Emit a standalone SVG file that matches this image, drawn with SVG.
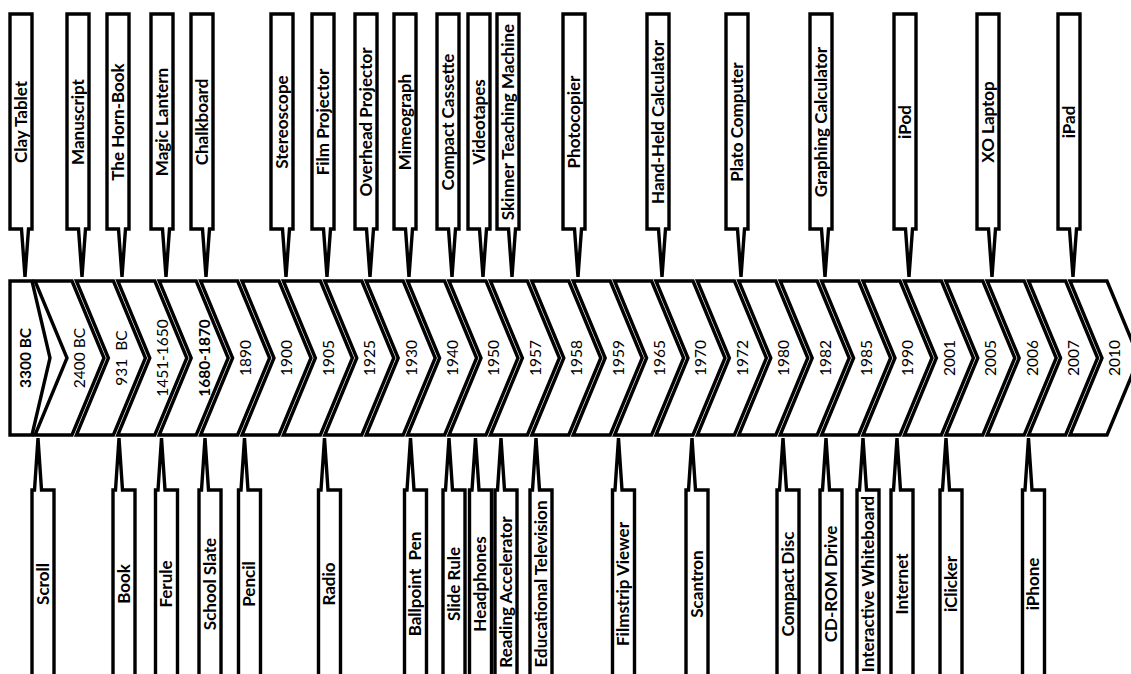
<svg xmlns="http://www.w3.org/2000/svg" xmlns:xlink="http://www.w3.org/1999/xlink" width="1131" height="674" viewBox="0 0 1131 674">
<style>
.sh{fill:#fff;stroke:#000;stroke-width:3.4;stroke-linejoin:miter}
.lb{font-family:Lato,"Open Sans","Liberation Sans",sans-serif;font-weight:bold;font-size:17px;text-anchor:middle;fill:#000;white-space:pre}
.yr{font-family:Lato,"Open Sans","Liberation Sans",sans-serif;font-size:15.5px;text-anchor:middle;fill:#000;white-space:pre}
.b{font-weight:bold}
</style>
<defs>
<polygon id="chev" points="-32,281 5,281 37,358 5,435 -32,435 0,358"/>
<path id="topc" d="M-11,14 H11 V229 H7.5 L4,277 L0.5,229 H-11 Z"/>
<path id="botc" d="M-11,680 V490 H-8.5 L-5,438 L-1.5,490 H11 V680 Z"/>
</defs>
<rect width="1131" height="674" fill="#fff"/>
<g id="timeline">
<g id="y3300bc"><polygon class="sh" points="10,281 32,281 50,358 32,435 10,435"/><text class="yr b" transform="translate(26,358) rotate(-90)" dy="0.35em">3300 BC</text></g>
<g id="y2400bc" transform="translate(67,0)"><use class="sh" href="#chev"/><text class="yr" transform="translate(13,358) rotate(-90)" dy="0.35em">2400 BC</text></g>
<g id="y931bc" transform="translate(108.4,0)"><use class="sh" href="#chev"/><text class="yr" transform="translate(13,358) rotate(-90)" dy="0.35em">931  BC</text></g>
<g id="y1451" transform="translate(149.8,0)"><use class="sh" href="#chev"/><text class="yr" transform="translate(13,358) rotate(-90)" dy="0.35em">1451-1650</text></g>
<g id="y1680" transform="translate(191.2,0)"><use class="sh" href="#chev"/><text class="yr b" transform="translate(13,358) rotate(-90)" dy="0.35em">1680-1870</text></g>
<g id="y1890" transform="translate(232.6,0)"><use class="sh" href="#chev"/><text class="yr" transform="translate(13,358) rotate(-90)" dy="0.35em">1890</text></g>
<g id="y1900" transform="translate(274,0)"><use class="sh" href="#chev"/><text class="yr" transform="translate(13,358) rotate(-90)" dy="0.35em">1900</text></g>
<g id="y1905" transform="translate(315.4,0)"><use class="sh" href="#chev"/><text class="yr" transform="translate(13,358) rotate(-90)" dy="0.35em">1905</text></g>
<g id="y1925" transform="translate(356.8,0)"><use class="sh" href="#chev"/><text class="yr" transform="translate(13,358) rotate(-90)" dy="0.35em">1925</text></g>
<g id="y1930" transform="translate(398.2,0)"><use class="sh" href="#chev"/><text class="yr" transform="translate(13,358) rotate(-90)" dy="0.35em">1930</text></g>
<g id="y1940" transform="translate(439.6,0)"><use class="sh" href="#chev"/><text class="yr" transform="translate(13,358) rotate(-90)" dy="0.35em">1940</text></g>
<g id="y1950" transform="translate(481,0)"><use class="sh" href="#chev"/><text class="yr" transform="translate(13,358) rotate(-90)" dy="0.35em">1950</text></g>
<g id="y1957" transform="translate(522.4,0)"><use class="sh" href="#chev"/><text class="yr" transform="translate(13,358) rotate(-90)" dy="0.35em">1957</text></g>
<g id="y1958" transform="translate(563.8,0)"><use class="sh" href="#chev"/><text class="yr" transform="translate(13,358) rotate(-90)" dy="0.35em">1958</text></g>
<g id="y1959" transform="translate(605.2,0)"><use class="sh" href="#chev"/><text class="yr" transform="translate(13,358) rotate(-90)" dy="0.35em">1959</text></g>
<g id="y1965" transform="translate(646.6,0)"><use class="sh" href="#chev"/><text class="yr" transform="translate(13,358) rotate(-90)" dy="0.35em">1965</text></g>
<g id="y1970" transform="translate(688,0)"><use class="sh" href="#chev"/><text class="yr" transform="translate(13,358) rotate(-90)" dy="0.35em">1970</text></g>
<g id="y1972" transform="translate(729.4,0)"><use class="sh" href="#chev"/><text class="yr" transform="translate(13,358) rotate(-90)" dy="0.35em">1972</text></g>
<g id="y1980" transform="translate(770.8,0)"><use class="sh" href="#chev"/><text class="yr" transform="translate(13,358) rotate(-90)" dy="0.35em">1980</text></g>
<g id="y1982" transform="translate(812.2,0)"><use class="sh" href="#chev"/><text class="yr" transform="translate(13,358) rotate(-90)" dy="0.35em">1982</text></g>
<g id="y1985" transform="translate(853.6,0)"><use class="sh" href="#chev"/><text class="yr" transform="translate(13,358) rotate(-90)" dy="0.35em">1985</text></g>
<g id="y1990" transform="translate(895,0)"><use class="sh" href="#chev"/><text class="yr" transform="translate(13,358) rotate(-90)" dy="0.35em">1990</text></g>
<g id="y2001" transform="translate(936.4,0)"><use class="sh" href="#chev"/><text class="yr" transform="translate(13,358) rotate(-90)" dy="0.35em">2001</text></g>
<g id="y2005" transform="translate(977.8,0)"><use class="sh" href="#chev"/><text class="yr" transform="translate(13,358) rotate(-90)" dy="0.35em">2005</text></g>
<g id="y2006" transform="translate(1019.2,0)"><use class="sh" href="#chev"/><text class="yr" transform="translate(13,358) rotate(-90)" dy="0.35em">2006</text></g>
<g id="y2007" transform="translate(1060.6,0)"><use class="sh" href="#chev"/><text class="yr" transform="translate(13,358) rotate(-90)" dy="0.35em">2007</text></g>
<g id="y2010" transform="translate(1102,0)"><use class="sh" href="#chev"/><text class="yr" transform="translate(13,358) rotate(-90)" dy="0.35em">2010</text></g>
</g>
<g id="top-labels">
<g id="clay-tablet" transform="translate(21,0)"><use class="sh" href="#topc"/><text class="lb" transform="translate(0,122) rotate(-90)" dy="0.35em">Clay Tablet</text></g>
<g id="manuscript" transform="translate(78,0)"><use class="sh" href="#topc"/><text class="lb" transform="translate(0,122) rotate(-90)" dy="0.35em">Manuscript</text></g>
<g id="horn-book" transform="translate(118,0)"><use class="sh" href="#topc"/><text class="lb" transform="translate(0,122) rotate(-90)" dy="0.35em">The Horn-Book</text></g>
<g id="magic-lantern" transform="translate(162,0)"><use class="sh" href="#topc"/><text class="lb" transform="translate(0,122) rotate(-90)" dy="0.35em">Magic Lantern</text></g>
<g id="chalkboard" transform="translate(202,0)"><use class="sh" href="#topc"/><text class="lb" transform="translate(0,122) rotate(-90)" dy="0.35em">Chalkboard</text></g>
<g id="stereoscope" transform="translate(282,0)"><use class="sh" href="#topc"/><text class="lb" transform="translate(0,122) rotate(-90)" dy="0.35em">Stereoscope</text></g>
<g id="film-projector" transform="translate(323,0)"><use class="sh" href="#topc"/><text class="lb" transform="translate(0,122) rotate(-90)" dy="0.35em">Film Projector</text></g>
<g id="overhead-projector" transform="translate(366,0)"><use class="sh" href="#topc"/><text class="lb" transform="translate(0,122) rotate(-90)" dy="0.35em">Overhead Projector</text></g>
<g id="mimeograph" transform="translate(405,0)"><use class="sh" href="#topc"/><text class="lb" transform="translate(0,122) rotate(-90)" dy="0.35em">Mimeograph</text></g>
<g id="compact-cassette" transform="translate(448,0)"><use class="sh" href="#topc"/><text class="lb" transform="translate(0,122) rotate(-90)" dy="0.35em">Compact Cassette</text></g>
<g id="videotapes" transform="translate(479,0)"><use class="sh" href="#topc"/><text class="lb" transform="translate(0,122) rotate(-90)" dy="0.35em">Videotapes</text></g>
<g id="skinner" transform="translate(508,0)"><use class="sh" href="#topc"/><text class="lb" transform="translate(0,122) rotate(-90)" dy="0.35em">Skinner Teaching Machine</text></g>
<g id="photocopier" transform="translate(574,0)"><use class="sh" href="#topc"/><text class="lb" transform="translate(0,122) rotate(-90)" dy="0.35em">Photocopier</text></g>
<g id="hand-held-calculator" transform="translate(658,0)"><use class="sh" href="#topc"/><text class="lb" transform="translate(0,122) rotate(-90)" dy="0.35em">Hand-Held Calculator</text></g>
<g id="plato-computer" transform="translate(737,0)"><use class="sh" href="#topc"/><text class="lb" transform="translate(0,122) rotate(-90)" dy="0.35em">Plato Computer</text></g>
<g id="graphing-calculator" transform="translate(821,0)"><use class="sh" href="#topc"/><text class="lb" transform="translate(0,122) rotate(-90)" dy="0.35em">Graphing Calculator</text></g>
<g id="ipod" transform="translate(905,0)"><use class="sh" href="#topc"/><text class="lb" transform="translate(0,122) rotate(-90)" dy="0.35em">iPod</text></g>
<g id="xo-laptop" transform="translate(988,0)"><use class="sh" href="#topc"/><text class="lb" transform="translate(0,122) rotate(-90)" dy="0.35em">XO Laptop</text></g>
<g id="ipad" transform="translate(1069,0)"><use class="sh" href="#topc"/><text class="lb" transform="translate(0,122) rotate(-90)" dy="0.35em">iPad</text></g>
</g>
<g id="bottom-labels">
<g id="scroll" transform="translate(43,0)"><use class="sh" href="#botc"/><text class="lb" transform="translate(0,584) rotate(-90)" dy="0.35em">Scroll</text></g>
<g id="book" transform="translate(124,0)"><use class="sh" href="#botc"/><text class="lb" transform="translate(0,584) rotate(-90)" dy="0.35em">Book</text></g>
<g id="ferule" transform="translate(166.5,0)"><use class="sh" href="#botc"/><text class="lb" transform="translate(0,584) rotate(-90)" dy="0.35em">Ferule</text></g>
<g id="school-slate" transform="translate(210,0)"><use class="sh" href="#botc"/><text class="lb" transform="translate(0,584) rotate(-90)" dy="0.35em">School Slate</text></g>
<g id="pencil" transform="translate(249.5,0)"><use class="sh" href="#botc"/><text class="lb" transform="translate(0,584) rotate(-90)" dy="0.35em">Pencil</text></g>
<g id="radio" transform="translate(329.5,0)"><use class="sh" href="#botc"/><text class="lb" transform="translate(0,584) rotate(-90)" dy="0.35em">Radio</text></g>
<g id="ballpoint-pen" transform="translate(415.5,0)"><use class="sh" href="#botc"/><text class="lb" transform="translate(0,584) rotate(-90)" dy="0.35em">Ballpoint  Pen</text></g>
<g id="slide-rule" transform="translate(454,0)"><use class="sh" href="#botc"/><text class="lb" transform="translate(0,584) rotate(-90)" dy="0.35em">Slide Rule</text></g>
<g id="headphones" transform="translate(480.5,0)"><use class="sh" href="#botc"/><text class="lb" transform="translate(0,584) rotate(-90)" dy="0.35em">Headphones</text></g>
<g id="reading-accelerator" transform="translate(506,0)"><use class="sh" href="#botc"/><text class="lb" transform="translate(0,592) rotate(-90)" dy="0.35em">Reading Accelerator</text></g>
<g id="educational-television" transform="translate(541,0)"><use class="sh" href="#botc"/><text class="lb" transform="translate(0,584) rotate(-90)" dy="0.35em">Educational Television</text></g>
<g id="filmstrip-viewer" transform="translate(623.5,0)"><use class="sh" href="#botc"/><text class="lb" transform="translate(0,584) rotate(-90)" dy="0.35em">Filmstrip Viewer</text></g>
<g id="scantron" transform="translate(697,0)"><use class="sh" href="#botc"/><text class="lb" transform="translate(0,584) rotate(-90)" dy="0.35em">Scantron</text></g>
<g id="compact-disc" transform="translate(788,0)"><use class="sh" href="#botc"/><text class="lb" transform="translate(0,584) rotate(-90)" dy="0.35em">Compact Disc</text></g>
<g id="cd-rom-drive" transform="translate(831,0)"><use class="sh" href="#botc"/><text class="lb" transform="translate(0,584) rotate(-90)" dy="0.35em">CD-ROM Drive</text></g>
<g id="interactive-whiteboard" transform="translate(868,0)"><use class="sh" href="#botc"/><text class="lb" transform="translate(0,584) rotate(-90)" dy="0.35em">Interactive Whiteboard</text></g>
<g id="internet" transform="translate(902,0)"><use class="sh" href="#botc"/><text class="lb" transform="translate(0,584) rotate(-90)" dy="0.35em">Internet</text></g>
<g id="iclicker" transform="translate(951,0)"><use class="sh" href="#botc"/><text class="lb" transform="translate(0,584) rotate(-90)" dy="0.35em">iClicker</text></g>
<g id="iphone" transform="translate(1033.5,0)"><use class="sh" href="#botc"/><text class="lb" transform="translate(0,584) rotate(-90)" dy="0.35em">iPhone</text></g>
</g>
</svg>
